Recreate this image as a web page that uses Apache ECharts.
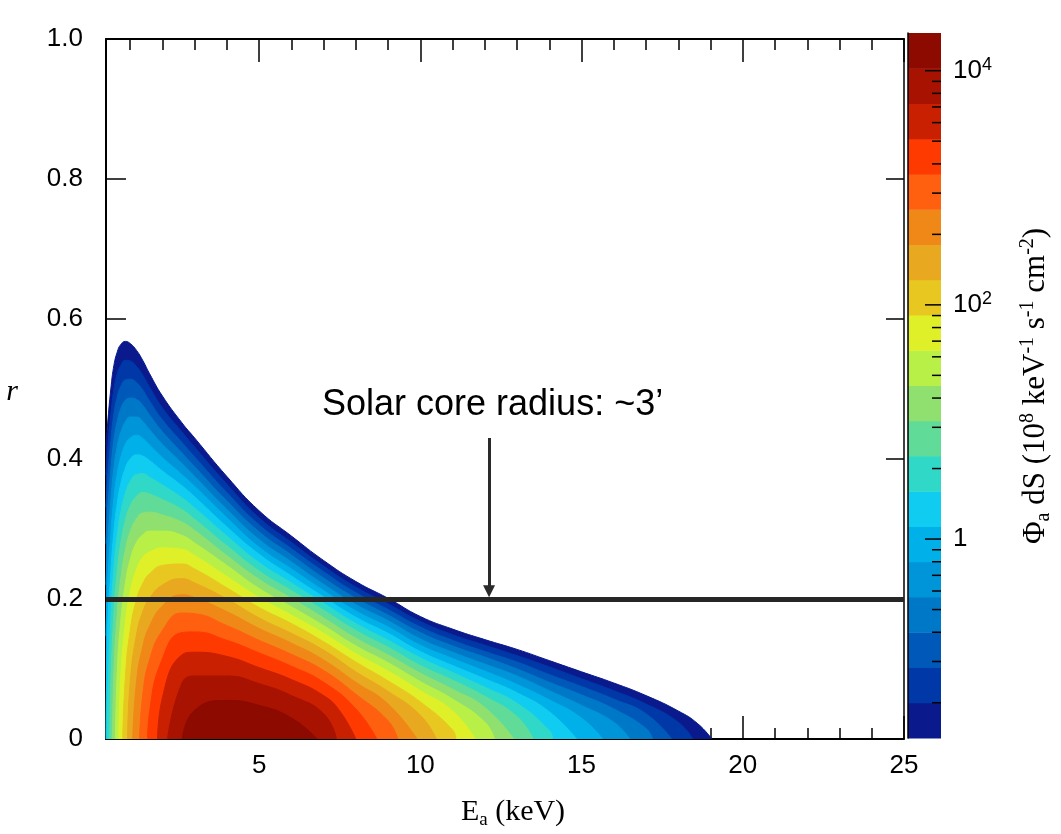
<!DOCTYPE html>
<html>
<head>
<meta charset="utf-8">
<script src="https://cdn.jsdelivr.net/npm/echarts@6.0.0/dist/echarts.min.js"></script>
<style>
  html, body { margin: 0; padding: 0; background: #fff; }
  #chart { width: 1061px; height: 834px; }
</style>
</head>
<body>
<div id="chart"></div>
<script>
// axes
const xMin = 0.25, xMax = 25
const xMajor = [5, 10, 15, 20, 25]
const xMinor = [1, 2, 3, 4, 6, 7, 8, 9, 11, 12, 13, 14, 16, 17, 18, 19, 21, 22, 23, 24]

// colour scale: contour levels (10^8 keV^-1 s^-1 cm^-2) and the band colours between them
const levels = [0.02, 0.04, 0.08, 0.16, 0.32, 0.64, 1.28, 2.56, 5.12, 10.24, 20.48,
  40.96, 81.92, 163.84, 327.68, 655.36, 1310.72, 2621.44, 5242.88, 10485.76, 20971.52]
const bandColors = ['#0a1a8c', '#0038a8', '#0058b8', '#0078c8', '#0094d8', '#00b0e8',
  '#10ccf0', '#30d8c8', '#60dc98', '#90e070', '#b8f048', '#e0f028', '#e8c820', '#e8a820',
  '#f08818', '#ff6010', '#ff3a00', '#c82000', '#a81200', '#8c0a00']
const cbMajor = [1, 100, 10000]
const cbMinor = [0.04, 0.09, 0.16, 0.25, 0.36, 0.49, 0.64, 0.81,
  4, 9, 16, 25, 36, 49, 64, 81,
  400, 900, 1600, 2500, 3600, 4900, 6400, 8100]

// annotation
const coreRadius = 0.2
const arrowFrom = [12.13, 0.43]

// contour lines [E keV, r] for each level, outermost first
const c00 = [[0.25,0.42],[0.3,0.45],[0.4,0.5],[0.5,0.535],[0.6,0.553],[0.7,0.563],[0.85,0.568],[1,0.565],[1.2,0.555],[1.4,0.54],[1.6,0.522],[2,0.49],[2.6,0.452],[3,0.43],[4,0.375],[5,0.326],[6,0.29],[7,0.255],[8,0.225],[9,0.201],[10,0.175],[11,0.157],[12,0.142],[13,0.128],[14,0.112],[15,0.096],[16,0.08],[17,0.062],[18,0.04],[18.6,0.022],[19.04,0]]
const c01 = [[0.25,0.377],[0.3,0.412],[0.4,0.464],[0.5,0.501],[0.6,0.522],[0.7,0.533],[0.85,0.541],[1,0.54],[1.2,0.532],[1.4,0.519],[1.6,0.503],[2,0.473],[2.6,0.439],[3,0.417],[4,0.364],[5,0.316],[6,0.281],[7,0.247],[8,0.217],[9,0.193],[10,0.168],[11,0.149],[12,0.134],[13,0.119],[14,0.103],[15,0.086],[16,0.069],[17,0.05],[18,0.024],[18.45,0]]
const c02 = [[0.25,0.331],[0.3,0.371],[0.4,0.426],[0.5,0.466],[0.6,0.489],[0.7,0.503],[0.85,0.513],[1,0.514],[1.2,0.509],[1.4,0.498],[1.6,0.483],[2,0.456],[2.6,0.424],[3,0.403],[4,0.352],[5,0.306],[6,0.272],[7,0.239],[8,0.209],[9,0.185],[10,0.16],[11,0.141],[12,0.125],[13,0.11],[14,0.092],[15,0.075],[16,0.057],[17,0.036],[17.8,0]]
const c03 = [[0.25,0.279],[0.3,0.326],[0.4,0.385],[0.5,0.429],[0.6,0.454],[0.7,0.471],[0.85,0.484],[1,0.487],[1.2,0.485],[1.4,0.476],[1.6,0.463],[2,0.439],[2.6,0.409],[3,0.389],[4,0.34],[5,0.296],[6,0.263],[7,0.23],[8,0.201],[9,0.177],[10,0.152],[11,0.133],[12,0.117],[13,0.1],[14,0.081],[15,0.063],[16,0.043],[17,0.015],[17.2,0]]
const c04 = [[0.25,0.22],[0.3,0.277],[0.4,0.341],[0.5,0.389],[0.6,0.418],[0.7,0.437],[0.85,0.453],[1,0.46],[1.2,0.46],[1.4,0.453],[1.6,0.442],[2,0.421],[2.6,0.394],[3,0.375],[4,0.328],[5,0.285],[6,0.253],[7,0.221],[8,0.192],[9,0.169],[10,0.143],[11,0.124],[12,0.107],[13,0.09],[14,0.069],[15,0.048],[16,0.024],[16.5,0]]
const c05 = [[0.25,0.147],[0.3,0.221],[0.4,0.293],[0.5,0.346],[0.6,0.379],[0.7,0.401],[0.85,0.421],[1,0.43],[1.2,0.434],[1.4,0.429],[1.6,0.42],[2,0.402],[2.6,0.378],[3,0.361],[4,0.316],[5,0.274],[6,0.243],[7,0.212],[8,0.183],[9,0.16],[10,0.134],[11,0.115],[12,0.097],[13,0.078],[14,0.056],[15,0.03],[15.66,0]]
const c06 = [[0.25,0],[0.3,0.152],[0.4,0.239],[0.5,0.299],[0.6,0.337],[0.7,0.363],[0.85,0.387],[1,0.4],[1.2,0.406],[1.4,0.404],[1.6,0.398],[2,0.383],[2.6,0.362],[3,0.346],[4,0.303],[5,0.264],[6,0.233],[7,0.203],[8,0.174],[9,0.151],[10,0.125],[11,0.105],[12,0.086],[13,0.066],[14,0.039],[14.85,0]]
const c07 = [[0.29,0],[0.3,0.041],[0.4,0.173],[0.5,0.247],[0.6,0.291],[0.7,0.322],[0.85,0.351],[1,0.368],[1.2,0.378],[1.4,0.379],[1.6,0.374],[2,0.363],[2.6,0.345],[3,0.33],[4,0.29],[5,0.252],[6,0.223],[7,0.194],[8,0.165],[9,0.141],[10,0.116],[11,0.095],[12,0.074],[13,0.051],[14,0.012],[14.1,0]]
const c08 = [[0.37,0],[0.4,0.081],[0.5,0.184],[0.6,0.24],[0.7,0.277],[0.85,0.312],[1,0.333],[1.2,0.347],[1.4,0.352],[1.6,0.35],[2,0.342],[2.6,0.328],[3,0.314],[4,0.276],[5,0.24],[6,0.212],[7,0.184],[8,0.155],[9,0.131],[10,0.105],[11,0.084],[12,0.061],[13,0.032],[13.5,0]]
const c09 = [[0.45,0],[0.5,0.101],[0.6,0.179],[0.7,0.226],[0.85,0.27],[1,0.296],[1.2,0.315],[1.4,0.323],[1.6,0.324],[2,0.32],[2.6,0.31],[3,0.298],[4,0.262],[5,0.228],[6,0.201],[7,0.173],[8,0.144],[9,0.12],[10,0.094],[11,0.071],[12,0.045],[12.9,0]]
const c10 = [[0.54,0],[0.6,0.097],[0.7,0.165],[0.85,0.222],[1,0.256],[1.2,0.281],[1.4,0.292],[1.6,0.297],[2,0.297],[2.6,0.291],[3,0.28],[4,0.248],[5,0.215],[6,0.189],[7,0.162],[8,0.133],[9,0.109],[10,0.082],[11,0.057],[12,0.024],[12.3,0]]
const c11 = [[0.65,0],[0.7,0.081],[0.85,0.165],[1,0.21],[1.2,0.243],[1.4,0.26],[1.6,0.267],[2,0.273],[2.6,0.271],[3,0.262],[4,0.232],[5,0.202],[6,0.177],[7,0.151],[8,0.122],[9,0.097],[10,0.069],[11,0.04],[11.7,0]]
const c12 = [[0.77,0],[0.85,0.088],[1,0.155],[1.2,0.2],[1.4,0.223],[1.6,0.236],[2,0.248],[2.6,0.25],[3,0.243],[4,0.216],[5,0.188],[6,0.165],[7,0.139],[8,0.11],[9,0.083],[10,0.053],[11,0.013],[11.1,0]]
const c13 = [[0.92,0],[1,0.081],[1.2,0.15],[1.4,0.183],[1.6,0.201],[2,0.22],[2.6,0.229],[3,0.223],[4,0.2],[5,0.173],[6,0.151],[7,0.127],[8,0.096],[9,0.068],[10,0.034],[10.5,0]]
const c14 = [[1.08,0],[1.2,0.083],[1.4,0.134],[1.6,0.161],[2,0.19],[2.6,0.206],[3,0.202],[4,0.182],[5,0.158],[6,0.137],[7,0.113],[8,0.081],[9,0.05],[9.9,0]]
const c15 = [[1.29,0],[1.4,0.067],[1.6,0.113],[2,0.155],[2.6,0.18],[3,0.179],[4,0.162],[5,0.141],[6,0.121],[7,0.098],[8,0.064],[9,0.026],[9.3,0]]
const c16 = [[1.54,0],[1.6,0.038],[2,0.115],[2.6,0.152],[3,0.153],[4,0.141],[5,0.123],[6,0.104],[7,0.081],[8,0.043],[8.65,0]]
const c17 = [[1.85,0],[2,0.059],[2.6,0.12],[3,0.124],[4,0.118],[5,0.102],[6,0.085],[7,0.062],[7.5,0.04],[8,0]]
const c18 = [[2.16,0],[2.6,0.079],[3,0.09],[4,0.09],[5,0.079],[6,0.062],[7,0.036],[7.4,0]]
const c19 = [[2.62,0],[3,0.041],[4,0.055],[5,0.048],[6,0.03],[6.8,0]]
const contours = [c00, c01, c02, c03, c04, c05, c06, c07, c08, c09,
  c10, c11, c12, c13, c14, c15, c16, c17, c18, c19]

const sans = '"Liberation Sans", Arial, sans-serif'
const serif = '"Liberation Serif", "Times New Roman", serif'
const lg = v => Math.log10(v)

const contourSeries = contours.map((pts, k) => ({
  type: 'line',
  xAxisIndex: 0,
  yAxisIndex: 0,
  data: pts,
  smooth: 0.5,
  symbol: 'none',
  silent: true,
  lineStyle: { width: 1, color: bandColors[k] },
  areaStyle: { color: bandColors[k], opacity: 1 },
  z: 2
}))

const tickStyle = w => ({ color: '#000', width: w })

const option = {
  animation: false,
  backgroundColor: '#fff',
  grid: [
    { left: 106, right: 157, top: 39, bottom: 95 },
    { left: 908, width: 33, top: 33, height: 705 }
  ],
  xAxis: [
    {
      gridIndex: 0, type: 'value', min: xMin, max: xMax, position: 'bottom',
      axisLine: { show: true, lineStyle: { color: '#000', width: 2 } },
      axisTick: { show: true, inside: true, length: 23, customValues: xMajor, lineStyle: tickStyle(1.5) },
      axisLabel: { show: true, customValues: xMajor, fontSize: 26, fontFamily: sans, color: '#000', margin: 14 },
      splitLine: { show: false }
    },
    {
      gridIndex: 0, type: 'value', min: xMin, max: xMax, position: 'bottom',
      axisLine: { show: false },
      axisTick: { show: true, inside: true, length: 11, customValues: xMinor, lineStyle: tickStyle(1.5) },
      axisLabel: { show: false },
      splitLine: { show: false }
    },
    {
      gridIndex: 0, type: 'value', min: xMin, max: xMax, position: 'top',
      axisLine: { show: true, lineStyle: { color: '#000', width: 2 } },
      axisTick: { show: true, inside: true, length: 23, customValues: xMajor, lineStyle: tickStyle(1.5) },
      axisLabel: { show: false },
      splitLine: { show: false }
    },
    {
      gridIndex: 0, type: 'value', min: xMin, max: xMax, position: 'top',
      axisLine: { show: false },
      axisTick: { show: true, inside: true, length: 11, customValues: xMinor, lineStyle: tickStyle(1.5) },
      axisLabel: { show: false },
      splitLine: { show: false }
    },
    { gridIndex: 1, type: 'value', min: 0, max: 1, show: false }
  ],
  yAxis: [
    {
      gridIndex: 0, type: 'value', min: 0, max: 1, interval: 0.2, position: 'left',
      axisLine: { show: true, lineStyle: { color: '#000', width: 2 } },
      axisTick: { show: true, inside: true, length: 20, lineStyle: tickStyle(1.5) },
      axisLabel: {
        fontSize: 26, fontFamily: sans, color: '#000', margin: 23,
        formatter: v => (v === 0 ? '0' : v.toFixed(1))
      },
      splitLine: { show: false }
    },
    {
      gridIndex: 0, type: 'value', min: 0, max: 1, interval: 0.2, position: 'right',
      axisLine: { show: true, lineStyle: { color: '#000', width: 1.5 } },
      axisTick: { show: true, inside: true, length: 18, lineStyle: tickStyle(1.5) },
      axisLabel: { show: false },
      splitLine: { show: false }
    },
    {
      gridIndex: 1, type: 'value', min: lg(levels[0]), max: lg(levels[levels.length - 1]), position: 'right',
      z: 10,
      axisLine: { show: true, lineStyle: { color: '#000', width: 1.5 } },
      axisTick: { show: false },
      axisLabel: {
        show: true, customValues: cbMajor.map(lg), margin: 12, color: '#000',
        formatter: v => {
          const p = Math.round(v)
          return p === 0 ? '{b|1}' : '{b|10}{s|' + p + '}'
        },
        rich: {
          b: { fontSize: 26, fontFamily: sans, color: '#000', lineHeight: 30 },
          s: { fontSize: 18, fontFamily: sans, color: '#000', lineHeight: 18, verticalAlign: 'top' }
        }
      },
      splitLine: { show: false }
    }
  ],
  series: [
    ...contourSeries,
    {
      type: 'line',
      xAxisIndex: 0,
      yAxisIndex: 0,
      data: [],
      z: 5,
      markLine: {
        silent: true,
        animation: false,
        symbol: ['none', 'none'],
        label: { show: false },
        lineStyle: { color: '#2a2a2a', width: 3, type: 'solid' },
        itemStyle: { color: '#2a2a2a' },
        data: [
          { yAxis: coreRadius, lineStyle: { color: '#262626', width: 5, type: 'solid' } },
          [
            { coord: arrowFrom, symbol: 'none' },
            { coord: [arrowFrom[0], coreRadius + 0.011], symbol: 'triangle', symbolSize: [12, 12] }
          ]
        ]
      }
    },
    {
      // colour bar bands
      type: 'custom',
      xAxisIndex: 4,
      yAxisIndex: 2,
      silent: true,
      z: 2,
      data: bandColors.map((c, i) => [0, lg(levels[i]), lg(levels[i + 1])]),
      encode: { x: 0, y: [1, 2] },
      renderItem: (params, api) => {
        const lo = api.coord([0, api.value(1)])
        const hi = api.coord([1, api.value(2)])
        return {
          type: 'rect',
          shape: { x: lo[0], y: hi[1], width: hi[0] - lo[0], height: lo[1] - hi[1] + 0.5 },
          style: { fill: bandColors[params.dataIndex] }
        }
      }
    },
    {
      // colour bar ticks, drawn inward from the right edge
      type: 'custom',
      xAxisIndex: 4,
      yAxisIndex: 2,
      silent: true,
      z: 4,
      data: cbMajor.map(v => [1, lg(v), 16]).concat(cbMinor.map(v => [1, lg(v), 9])),
      encode: { x: 0, y: 1 },
      renderItem: (params, api) => {
        const p = api.coord([1, api.value(1)])
        const len = api.value(2)
        return {
          type: 'line',
          shape: { x1: p[0] - len, y1: p[1], x2: p[0], y2: p[1] },
          style: { stroke: '#000', lineWidth: 1.5 }
        }
      }
    }
  ],
  graphic: [
    {
      type: 'text', x: 322, y: 405, z: 10,
      style: { text: 'Solar core radius: ~3\u2019', font: '36px ' + sans, fill: '#000', verticalAlign: 'middle' }
    },
    {
      type: 'text', x: 513, y: 812, z: 10,
      style: {
        text: '{n|E}{d|a}{n| (keV)}', align: 'center', verticalAlign: 'middle',
        rich: {
          n: { fontSize: 30, fontFamily: serif, fill: '#000', lineHeight: 36 },
          d: { fontSize: 19, fontFamily: serif, fill: '#000', lineHeight: 18, verticalAlign: 'bottom' }
        }
      }
    },
    {
      type: 'text', x: 12, y: 392, z: 10,
      style: { text: 'r', font: 'italic 30px ' + serif, fill: '#000', align: 'center', verticalAlign: 'middle' }
    },
    {
      type: 'text', x: 1036, y: 386, rotation: Math.PI / 2, z: 10,
      style: {
        text: '{n|\u03a6}{d|a}{n| dS (10}{u|8}{n| keV}{u|-1}{n| s}{u|-1}{n| cm}{u|-2}{n|)}',
        align: 'center', verticalAlign: 'middle',
        rich: {
          n: { fontSize: 31, fontFamily: serif, fill: '#000', lineHeight: 36 },
          d: { fontSize: 20, fontFamily: serif, fill: '#000', lineHeight: 18, verticalAlign: 'bottom' },
          u: { fontSize: 20, fontFamily: serif, fill: '#000', lineHeight: 18, verticalAlign: 'top' }
        }
      }
    }
  ]
}

const chart = echarts.init(document.getElementById('chart'))
chart.setOption(option)
</script>
</body>
</html>
